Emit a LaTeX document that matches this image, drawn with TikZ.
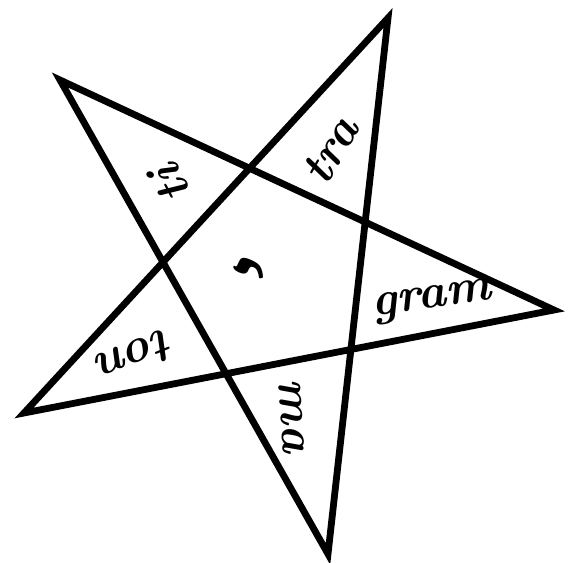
\documentclass[tikz,border=0pt]{standalone}
\usepackage{fontspec}
\newfontfamily\hebfont[Script=Hebrew]{Liberation Serif}
\TeXXeTstate=1
\usepackage{tikz}

\begin{document}
\begin{tikzpicture}[x=0.5pt, y=-0.5pt, line join=miter, line cap=round]
  \tikzset{
    syllable/.style={font=\fontsize{24}{26}\selectfont\bfseries\itshape, inner sep=0pt},
    starline/.style={line width=3.4pt}
  }
  \useasboundingbox (0,0) rectangle (586,563);
  % star points
  \coordinate (top)   at (388,18);
  \coordinate (ul)    at (60,80);
  \coordinate (right) at (554,310);
  \coordinate (ll)    at (24,413);
  \coordinate (bot)   at (328,554);
  \draw[starline] (top) -- (ll) -- (right) -- (ul) -- (bot) -- cycle;
  % syllables in the arms
  \node[syllable, rotate=118] (ti)   at (170,184) {ti};
  \node[syllable, rotate=60]  (tra)  at (330,150) {tra};
  \node[syllable, rotate=8]   (gram) at (432,302) {gram};
  \node[syllable, rotate=-86] (ma)   at (292,416) {ma};
  \node[syllable, rotate=202] (ton)  at (136,356) {ton};
  % yod in the middle
  \node[font=\fontsize{44}{44}\selectfont\bfseries, inner sep=0pt, rotate=65] (yod) at (260,272) {\hebfont\beginR י\endR};
\end{tikzpicture}
\end{document}
